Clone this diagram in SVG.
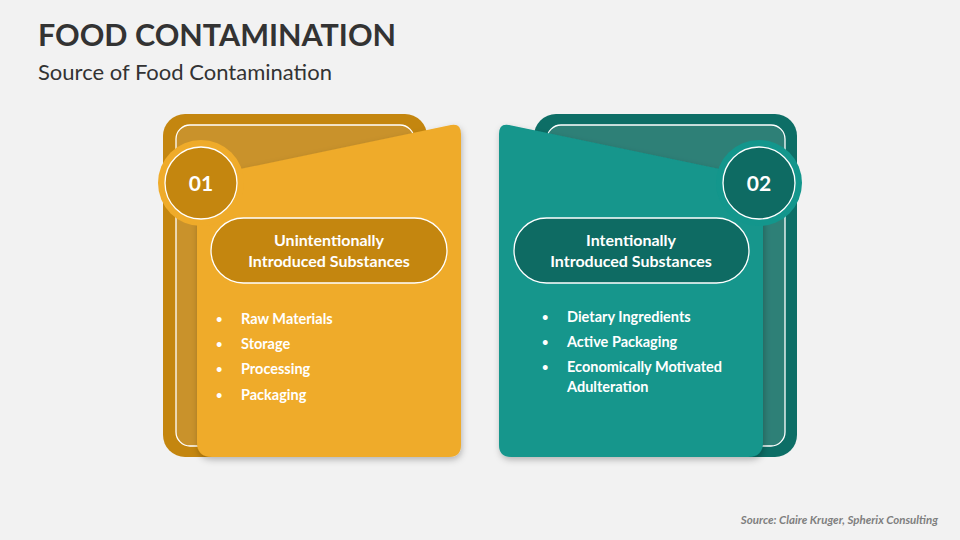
<svg xmlns="http://www.w3.org/2000/svg" width="960" height="540" viewBox="0 0 960 540">
<defs>
<filter id="sh" x="-10%" y="-10%" width="130%" height="130%"><feDropShadow dx="1" dy="3" stdDeviation="3" flood-color="#000" flood-opacity="0.25"/></filter>
</defs>
<style>
text{font-family:Lato,"Open Sans",sans-serif;}
.h{font-weight:bold;font-size:16px;fill:#fff;text-anchor:middle}
.b{font-weight:bold;font-size:14.5px;fill:#fff}
.d{font-size:11px}
.n{font-weight:bold;font-size:21px;fill:#fff;text-anchor:middle}
.w{stroke:#fff;stroke-width:1.3}
</style>
<rect width="960" height="540" fill="#F2F2F2"/>
<text x="38" y="46" font-size="30.5" font-weight="bold" fill="#333">FOOD CONTAMINATION</text>
<text x="38" y="80" font-size="22" fill="#333">Source of Food Contamination</text>
<g id="card1">
<rect x="163" y="114" width="264" height="343" rx="22" fill="#C4860F"/>
<rect x="176" y="125" width="238" height="321" rx="14" fill="#C9922B" class="w"/>
<path d="M197,178 L451,125 Q461,123 461,134 L461,445 Q461,457 449,457 L212,457 Q197,457 197,442 Z" fill="#EFAB2A" filter="url(#sh)"/>
<circle cx="201" cy="183" r="43" fill="#EFAB2A"/>
<circle cx="201" cy="183" r="36" fill="#C4860F" class="w"/>
<text x="201" y="191" class="n">01</text>
<rect x="211" y="218" width="236" height="65" rx="32.5" fill="#C4860F" class="w"/>
<text x="329" y="246" class="h">Unintentionally</text>
<text x="329" y="267" class="h">Introduced Substances</text>
<g class="b"><text x="216" y="323" class="d">•</text><text x="241" y="324">Raw Materials</text>
<text x="216" y="348" class="d">•</text><text x="241" y="349">Storage</text>
<text x="216" y="373" class="d">•</text><text x="241" y="374">Processing</text>
<text x="216" y="399" class="d">•</text><text x="241" y="400">Packaging</text></g>
</g>
<g id="card2">
<rect x="534" y="114" width="263" height="343" rx="22" fill="#0D6E66"/>
<rect x="547" y="125" width="238" height="321" rx="14" fill="#2E8077" class="w"/>
<path d="M763,178 L509,125 Q499,123 499,134 L499,445 Q499,457 511,457 L748,457 Q763,457 763,442 Z" fill="#13968C" filter="url(#sh)"/>
<circle cx="759" cy="183" r="43" fill="#13968C"/>
<circle cx="759" cy="183" r="36" fill="#0E6B63" class="w"/>
<text x="759" y="191" class="n">02</text>
<rect x="514" y="218" width="235" height="65" rx="32.5" fill="#0E6B63" class="w"/>
<text x="631" y="246" class="h">Intentionally</text>
<text x="631" y="267" class="h">Introduced Substances</text>
<g class="b"><text x="542" y="321" class="d">•</text><text x="567" y="322">Dietary Ingredients</text>
<text x="542" y="346" class="d">•</text><text x="567" y="347">Active Packaging</text>
<text x="542" y="371" class="d">•</text><text x="567" y="372">Economically Motivated</text>
<text x="567" y="392">Adulteration</text></g>
</g>
<g id="connectors"/>
<text x="938" y="524" font-size="11.5" font-weight="bold" font-style="italic" fill="#7F7F7F" text-anchor="end">Source: Claire Kruger, Spherix Consulting</text>
</svg>
